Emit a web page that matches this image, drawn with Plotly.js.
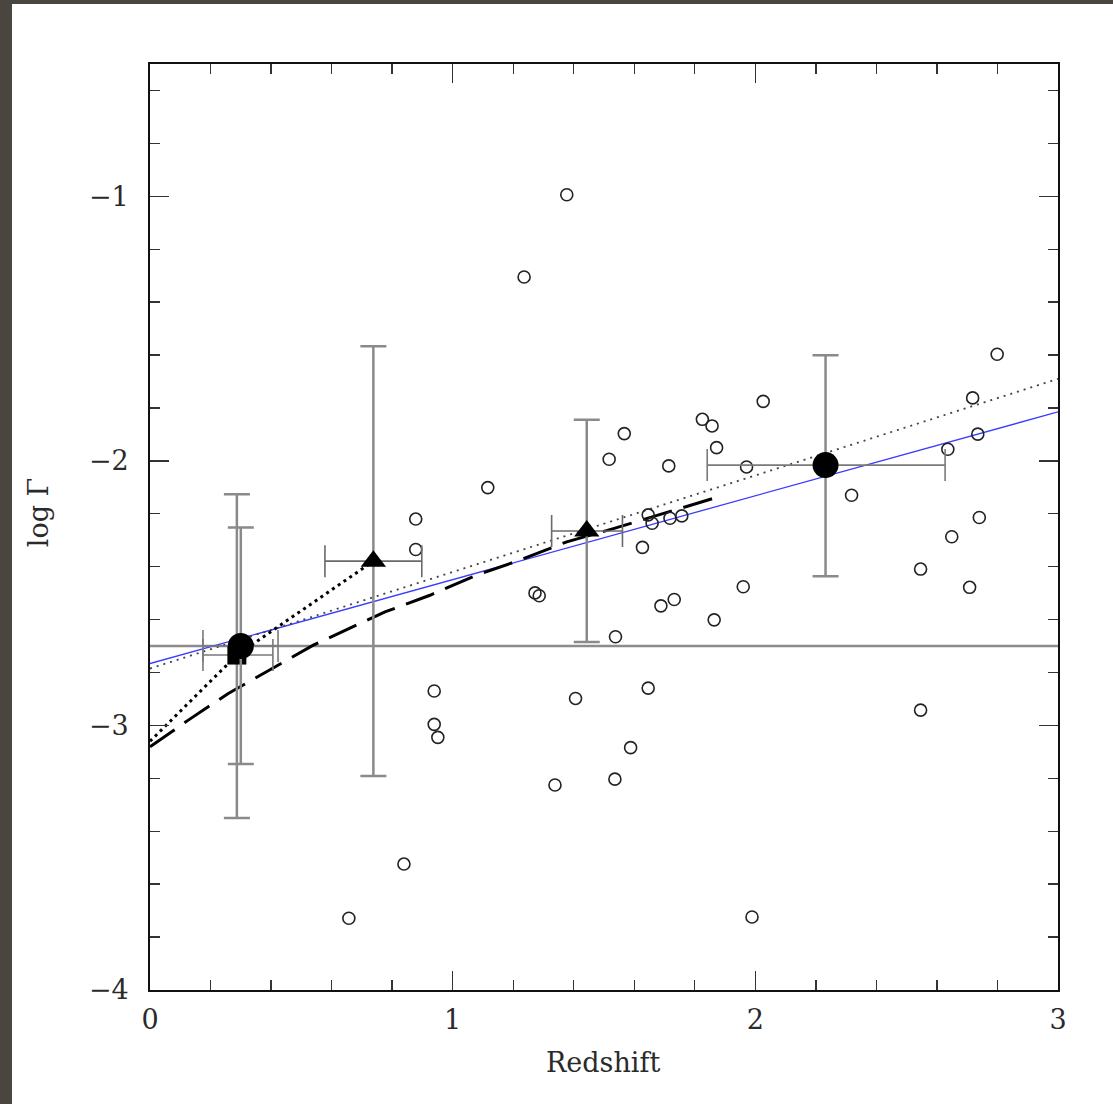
<!DOCTYPE html>
<html>
<head>
<meta charset="utf-8">
<script src="https://cdn.plot.ly/plotly-3.0.1.min.js"></script>
<style>
  html, body { margin: 0; padding: 0; background: #4a453f; width: 1113px; height: 1104px; overflow: hidden; }
  #chart { position: absolute; left: 12px; top: 4px; width: 1101px; height: 1100px; background: #ffffff; }
</style>
</head>
<body>
<div id="chart"></div>
<script>
// ---- Individual objects (open circles) ----
const openZ = [1.377, 1.236, 2.799, 2.718, 2.026, 1.825, 1.857, 2.735, 1.567, 1.872,
               2.636, 1.517, 1.714, 1.971, 1.116, 2.318, 0.878, 1.646, 1.718, 1.757,
               1.659, 2.740, 2.649, 0.878, 1.627, 2.546, 1.272, 1.286, 1.960, 2.708,
               1.732, 1.688, 1.864, 1.538, 0.939, 1.646, 1.406, 2.546, 0.939, 0.951,
               1.588, 1.536, 1.338, 0.839, 0.657, 1.989];
const openLogG = [-0.994, -1.305, -1.597, -1.762, -1.775, -1.843, -1.868, -1.899, -1.897, -1.950,
                  -1.956, -1.994, -2.019, -2.023, -2.101, -2.130, -2.220, -2.204, -2.217, -2.208,
                  -2.236, -2.214, -2.287, -2.335, -2.327, -2.409, -2.499, -2.510, -2.476, -2.478,
                  -2.524, -2.548, -2.601, -2.665, -2.870, -2.859, -2.898, -2.942, -2.996, -3.045,
                  -3.084, -3.203, -3.225, -3.524, -3.729, -3.724];

// ---- Binned filled circles ----
const circleZ = [0.300, 2.232];
const circleLogG = [-2.700, -2.016];
const circleYErrPlus = [0.448, 0.415];
const circleYErrMinus = [0.446, 0.420];
const circleXErrPlus = [0.123, 0.395];
const circleXErrMinus = [0.125, 0.391];

// ---- Filled square ----
const squareZ = [0.287];
const squareLogG = [-2.734];
const squareYErrPlus = [0.608];
const squareYErrMinus = [0.616];
const squareXErrPlus = [0.119];
const squareXErrMinus = [0.112];

// ---- Filled triangles ----
const triZ = [0.738, 1.443];
const triLogG = [-2.379, -2.265];
const triYErr = [0.812, 0.420];
const triXErrPlus = [0.160, 0.118];
const triXErrMinus = [0.160, 0.116];

// ---- Lines ----
const refZ = [0, 3];
const refLogG = [-2.70, -2.70];
const blueFitZ = [0, 3];
const blueFitLogG = [-2.766, -1.815];
const dotFitZ = [0, 3];
const dotFitLogG = [-2.785, -1.690];
const dashZ = [0.0, 0.1265, 0.2587, 0.3965, 0.5395, 0.7764, 0.925, 1.079, 1.2225, 1.377, 1.531, 1.861];
const dashLogG = [-3.081, -2.980, -2.879, -2.791, -2.6965, -2.571, -2.508, -2.432, -2.375, -2.306, -2.256, -2.142];
const thickDotZ = [0.0, 0.287, 0.738];
const thickDotLogG = [-3.06, -2.734, -2.379];

// ---- Axis ticks ----
const xTickVals = [0, 1, 2, 3];
const xTickText = ['0', '1', '2', '3'];
const yTickVals = [-4, -3, -2, -1];
const yTickText = ['\u22124', '\u22123', '\u22122', '\u22121'];

const traces = [
  { x: refZ, y: refLogG, mode: 'lines', line: { color: '#8c8c8c', width: 2.5 }, hoverinfo: 'skip' },
  { x: blueFitZ, y: blueFitLogG, mode: 'lines', line: { color: '#3a3cff', width: 1.3 }, hoverinfo: 'skip' },
  { x: dotFitZ, y: dotFitLogG, mode: 'lines', line: { color: '#444444', width: 1.8, dash: '2px,5px' }, hoverinfo: 'skip' },
  { x: dashZ, y: dashLogG, mode: 'lines', line: { color: '#000000', width: 3, dash: '30px,12px' }, hoverinfo: 'skip' },
  { x: thickDotZ, y: thickDotLogG, mode: 'lines', line: { color: '#000000', width: 3, dash: '3px,4px' }, hoverinfo: 'skip' },
  { x: openZ, y: openLogG, mode: 'markers',
    marker: { symbol: 'circle-open', size: 12, color: '#222222', line: { width: 1.6, color: '#222222' } } },
  { x: squareZ, y: squareLogG, mode: 'markers',
    marker: { symbol: 'square', size: 19, color: '#000000' },
    error_y: { type: 'data', symmetric: false, array: squareYErrPlus, arrayminus: squareYErrMinus, color: '#8a8a8a', thickness: 2.5, width: 13 },
    error_x: { type: 'data', symmetric: false, array: squareXErrPlus, arrayminus: squareXErrMinus, color: '#7a7a7a', thickness: 1.6, width: 16 } },
  { x: circleZ, y: circleLogG, mode: 'markers',
    marker: { symbol: 'circle', size: 26, color: '#000000' },
    error_y: { type: 'data', symmetric: false, array: circleYErrPlus, arrayminus: circleYErrMinus, color: '#8a8a8a', thickness: 2.5, width: 13 },
    error_x: { type: 'data', symmetric: false, array: circleXErrPlus, arrayminus: circleXErrMinus, color: '#7a7a7a', thickness: 1.6, width: 16 } },
  { x: triZ, y: triLogG, mode: 'markers',
    marker: { symbol: 'triangle-up', size: 22, color: '#000000' },
    error_y: { type: 'data', array: triYErr, color: '#8a8a8a', thickness: 2.5, width: 13 },
    error_x: { type: 'data', symmetric: false, array: triXErrPlus, arrayminus: triXErrMinus, color: '#6a6a6a', thickness: 1.6, width: 16 } }
];

const tickFont = { family: 'DejaVu Serif, serif', size: 27, color: '#2a2a2a' };

const layout = {
  width: 1101,
  height: 1100,
  margin: { l: 138, r: 55, t: 60, b: 114 },
  paper_bgcolor: '#ffffff',
  plot_bgcolor: '#ffffff',
  showlegend: false,
  xaxis: {
    range: [0, 3], tickmode: 'array', tickvals: xTickVals, ticktext: xTickText,
    ticks: 'inside', ticklen: 19, tickwidth: 1.4, tickcolor: '#333',
    minor: { dtick: 0.2, tick0: 0, ticks: 'inside', ticklen: 10, tickwidth: 1.4, tickcolor: '#333' },
    showline: true, linecolor: '#111', linewidth: 1.8, mirror: 'ticks',
    showgrid: false, zeroline: false, tickfont: tickFont, ticklabelstandoff: 5
  },
  yaxis: {
    range: [-4, -0.5], tickmode: 'array', tickvals: yTickVals, ticktext: yTickText,
    ticks: 'inside', ticklen: 19, tickwidth: 1.4, tickcolor: '#333',
    minor: { dtick: 0.2, tick0: -4, ticks: 'inside', ticklen: 10, tickwidth: 1.4, tickcolor: '#333' },
    showline: true, linecolor: '#111', linewidth: 1.8, mirror: 'ticks',
    showgrid: false, zeroline: false, tickfont: tickFont, ticklabelstandoff: 14
  },
  annotations: [
    { text: 'Redshift', xref: 'paper', yref: 'paper', x: 0.499, y: -0.0778, xanchor: 'center', yanchor: 'middle',
      showarrow: false, font: { family: 'DejaVu Serif, serif', size: 27, color: '#2a2a2a' } },
    { text: 'log \u0393', xref: 'paper', yref: 'paper', x: -0.1233, y: 0.516, xanchor: 'center', yanchor: 'middle',
      textangle: -90, showarrow: false, font: { family: 'DejaVu Serif, serif', size: 27, color: '#2a2a2a' } }
  ]
};

Plotly.newPlot('chart', traces, layout, { staticPlot: true, displayModeBar: false });
</script>
</body>
</html>
